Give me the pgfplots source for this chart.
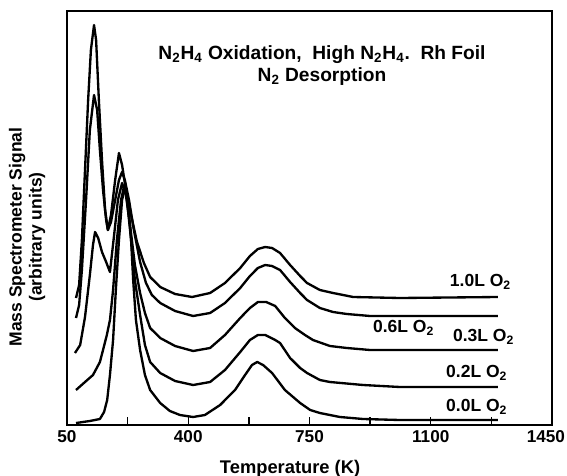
\documentclass[border=0pt]{standalone}
\usepackage{fontspec}
\setmainfont{Liberation Sans}
\usepackage{pgfplots}
\pgfplotsset{compat=1.18}
\newcommand{\sub}[1]{\textsubscript{#1}}

\begin{document}
\begin{tikzpicture}
\begin{axis}[
    scale only axis,
    width=291pt, height=248.4pt,
    xmin=50, xmax=1450, ymin=0, ymax=414,
    xtick={50,225,...,1450},
    xticklabels={50,,400,,750,,1100,,\hbox to 0pt{\hss 1450\kern-7.8pt}},
    ytick=\empty,
    xtick pos=bottom, tick align=inside,
    major tick length=4.8pt,
    axis line style={line width=1.2pt},
    every tick/.style={black, line width=0.8pt},
    /pgf/number format/assume math mode=true,
    ticklabel style={font=\fontsize{10.3}{12}\selectfont\bfseries},
    xlabel={Temperature (K)},
    xlabel style={at={(axis description cs:0.46,-0.106)}, anchor=center,
        font=\fontsize{11}{13}\selectfont\bfseries},
    ylabel={Mass Spectrometer Signal\\(arbitrary units)},
    ylabel style={at={(axis description cs:-0.0825,0.454)}, anchor=center,
        align=center, font=\fontsize{10.5}{12}\selectfont\bfseries},
    curve/.style={black, line width=1.4pt, line join=round, mark=none},
]
% 1.0 L O2
\addplot[curve] coordinates {
 (76,127) (85,140) (93,185) (102,255) (111,325) (119,375) (128,400) (134,385)
 (142,325) (151,265) (160,215) (168,195) (177,210) (189,245) (200,272) (209,260)
 (220,235) (235,210) (252,183) (272,162) (290,148) (319,138) (362,131) (411,128)
 (463,132) (506,142) (550,157) (578,169) (601,176) (622,178) (642,177) (665,172)
 (694,160) (723,149) (743,142) (780,135) (818,132) (876,128) (1011,127) (1294,128)
};
% 0.6 L O2
\addplot[curve] coordinates {
 (76,107) (85,120) (93,155) (105,225) (116,295) (128,330) (137,315) (145,275)
 (154,235) (163,205) (168,195) (177,203) (189,225) (200,245) (209,253) (217,245)
 (229,225) (243,195) (261,163) (278,142) (295,130) (319,122) (362,114) (414,109)
 (463,112) (506,122) (550,137) (578,149) (601,157) (622,160) (642,159) (665,155)
 (694,143) (723,132) (743,125) (780,117) (818,113) (858,111) (925,109) (1294,109)
};
% 0.3 L O2
\addplot[curve] coordinates {
 (73,72) (88,80) (102,108) (116,150) (125,180) (131,193) (140,187) (151,173)
 (163,163) (174,153) (186,190) (197,225) (209,242) (220,230) (232,200) (246,160)
 (261,132) (275,112) (290,97) (319,87) (362,79) (414,74) (463,77) (506,90)
 (550,107) (578,117) (601,123) (625,123) (651,119) (679,107) (708,97) (737,90)
 (760,85) (809,79) (858,77) (925,75) (1294,75)
};
% 0.2 L O2
\addplot[curve] coordinates {
 (76,35) (102,43) (125,50) (145,63) (154,75) (165,90) (174,105) (183,135)
 (194,185) (206,225) (215,239) (223,225) (235,185) (246,145) (261,110) (275,80)
 (290,63) (319,52) (362,44) (414,40) (463,43) (506,55) (550,73) (578,85)
 (601,90) (622,90) (651,85) (665,82) (694,67) (723,57) (743,52) (780,45)
 (809,43) (905,40) (1011,38) (1294,38)
};
% 0.0 L O2
\addplot[curve] coordinates {
 (76,2) (116,4) (145,6) (157,13) (166,25) (174,50) (183,85) (191,135)
 (200,185) (209,225) (217,238) (226,225) (235,185) (241,145) (249,105) (261,75)
 (275,50) (290,35) (319,22) (347,14) (376,10) (414,8) (448,10) (492,20)
 (535,35) (564,50) (584,60) (599,63) (616,60) (642,52) (679,35) (723,22)
 (752,15) (780,12) (838,8) (905,6) (1011,5) (1294,5)
};
\node[font=\fontsize{11.5}{13}\selectfont\bfseries] at (axis cs:786,370)
    {N\sub{2}H\sub{4} Oxidation,\ \ High N\sub{2}H\sub{4}.\ \ Rh Foil};
\node[font=\fontsize{11.5}{13}\selectfont\bfseries] at (axis cs:786,348)
    {N\sub{2} Desorption};
\begin{scope}[every node/.style={font=\fontsize{10.5}{12}\selectfont\bfseries, anchor=east}]
\node at (axis cs:1349,143) {1.0L O\sub{2}};
\node at (axis cs:1127,97) {0.6L O\sub{2}};
\node at (axis cs:1358,88) {0.3L O\sub{2}};
\node at (axis cs:1338,52) {0.2L O\sub{2}};
\node at (axis cs:1338,18) {0.0L O\sub{2}};
\end{scope}
\coordinate (ll) at (rel axis cs:0,0);
\coordinate (ur) at (rel axis cs:1,1);
\end{axis}
\pgfresetboundingbox
\path ([xshift=-40.2pt,yshift=-30pt]ll) rectangle ([xshift=9pt,yshift=6.6pt]ur);
\end{tikzpicture}
\end{document}
